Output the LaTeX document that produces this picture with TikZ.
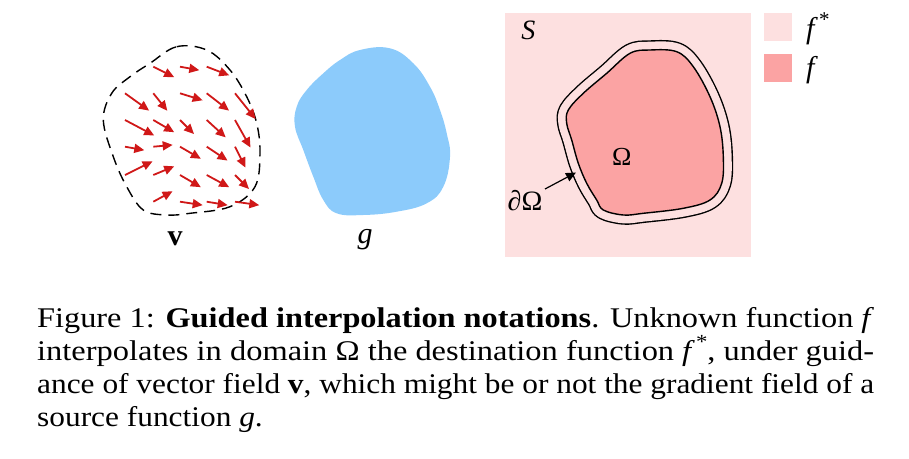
\documentclass[tikz,border=0pt]{standalone}
\usepackage{fontspec}
\setmainfont{Liberation Serif}
\usetikzlibrary{arrows.meta}
\definecolor{vred}{HTML}{D01818}
\definecolor{spink}{HTML}{FDE0E0}
\definecolor{salmon}{HTML}{FBA3A3}
\definecolor{gblue}{HTML}{8CCBFB}
\tikzset{
  varrow/.style={draw=vred, line width=1.8pt, -{Triangle[length=10pt,width=9pt]}, shorten >=-1pt},
  lbl/.style={inner sep=0pt, font=\fontsize{30}{34}\selectfont},
  capline/.style={anchor=base west, inner sep=0pt, font=\fontsize{28.5}{33}\selectfont},
}
\newsavebox\capbox
\newcommand\capfit[1]{\sbox\capbox{#1}\dimen0=\wd\capbox
  \pgfmathsetmacro\capsc{837/\the\dimen0}\xdef\capscg{\capsc}%
  \scalebox{\capsc}[1]{\usebox\capbox}}
\begin{document}
\begin{tikzpicture}[x=1pt,y=-1pt]
\useasboundingbox (0,0) rectangle (909,458);
% ---- vector field v ----
\draw[dashed, dash pattern=on 11pt off 7pt, line width=1.4pt] plot[smooth cycle, tension=0.6] coordinates {
 (150,63.3) (176.7,46.7) (206.7,50) (230,70) (246.7,96.7) (256.7,123.3) (260,153.3) (255,186.7)
 (230,206.7) (190,213.3) (166.7,215) (143.3,210) (126.7,186.7) (113.3,156.7) (103.3,120) (111.7,93.3) (130,76.7)};
\foreach \a/\b/\c/\d in {
 153.3/66.7/173.3/76.7, 180/66.7/198.3/70, 206.7/66.7/228.3/75,
 125/93.3/148.3/110, 153.3/93.3/166.7/110, 180/93.3/201.7/100, 206.7/93.3/228.3/110, 235/93.3/255/118.3,
 125/120/153.3/135, 153.3/120/173.3/131.7, 180/120/193.3/133.3, 206.7/120/225/136.7, 235/120/250/146.7,
 125/146.7/143.3/150, 153.3/146.7/171.7/145, 180/146.7/200/158.3, 206.7/146.7/226.7/160, 235/146.7/245/166.7,
 125/175/151.7/161.7, 153.3/175/173.3/166.7, 180/175/200/186.7, 206.7/175/228.3/186.7, 235/175/248.3/188.3,
 153.3/201.7/171.7/191.7, 180/201.7/201.7/205, 206.7/201.7/226.7/205, 235/201.7/258.3/205}
 {\draw[varrow] (\a,\b) -- (\c,\d);}
\node[lbl] (vlab) at (175,239) {\textbf{v}};
% ---- source g ----
\fill[gblue] plot[smooth cycle, tension=0.7] coordinates {
 (360,50) (390,48.3) (413.3,63.3) (430,86.7) (440,110) (446.7,133.3) (450,156.7) (443.3,186.7)
 (426.7,203.3) (396.7,211.7) (363.3,215) (336.7,213.3) (323.3,200) (313.3,176.7) (303.3,150)
 (295,126.7) (296.7,106.7) (306.7,90) (323.3,73.3) (340,60)};
\node[lbl] (glab) at (365,240) {\textit{g}};
% ---- domain S ----
\fill[spink] (505,13.3) rectangle (751,257.3);
\node[lbl, font=\fontsize{28}{32}\selectfont] (slab) at (528.3,30) {\textit{S}};
\def\omegapath{plot[smooth cycle, tension=0.6] coordinates {
 (568.3,110) (583.3,93.3) (606.7,73.3) (630,53.3) (650,50) (676.7,51.7) (693.3,66.7) (710,96.7)
 (720,126.7) (723.3,156.7) (721.7,183.3) (710,200) (683.3,208.3) (643.3,213.3) (623.3,215)
 (603.3,210) (596.7,200) (586.7,183.3) (578.3,163.3) (571.7,140) (566.7,123.3)}}
\draw[line width=19.4pt, line join=round, black] \omegapath;
\draw[line width=16.6pt, line join=round, spink] \omegapath;
\fill[salmon] \omegapath;
\draw[line width=1.4pt, line join=round] \omegapath;
\node[lbl, font=\fontsize{26}{30}\selectfont] (omlab) at (621.7,157) {Ω};
\node[lbl, font=\fontsize{28}{32}\selectfont] (dlab) at (525,201) {∂Ω};
\coordinate (bnd) at (576,172.5);
\draw[line width=1.2pt, -{Triangle[length=10pt,width=9pt]}] (545,189) -- (bnd);
% ---- legend ----
\fill[spink] (764,13.3) rectangle (791.7,40.7);
\fill[salmon] (764,54) rectangle (791.7,81.7);
\node[lbl, anchor=west] (fslab) at (806,29) {\textit{f}\kern1pt\raisebox{0.42em}{\fontsize{21}{21}\selectfont *}};
\node[lbl, anchor=west] (flab) at (806,70) {\textit{f}};
% ---- caption ----
\node[capline] (c1) at (37,327.3) {\capfit{Figure 1: \textbf{Guided interpolation notations}. Unknown function \textit{f}}};
\node[capline] (c2) at (37,360.3) {\capfit{interpolates in domain Ω the destination function \textit{f}\kern1pt\raisebox{0.4em}{\fontsize{20}{20}\selectfont *}, under guid-}};
\node[capline] (c3) at (37,393.3) {\capfit{ance of vector field \textbf{v}, which might be or not the gradient field of a}};
\node[capline] (c4) at (37,426.3) {\scalebox{\capscg}[1]{source function \textit{g}.}};
\end{tikzpicture}
\end{document}
